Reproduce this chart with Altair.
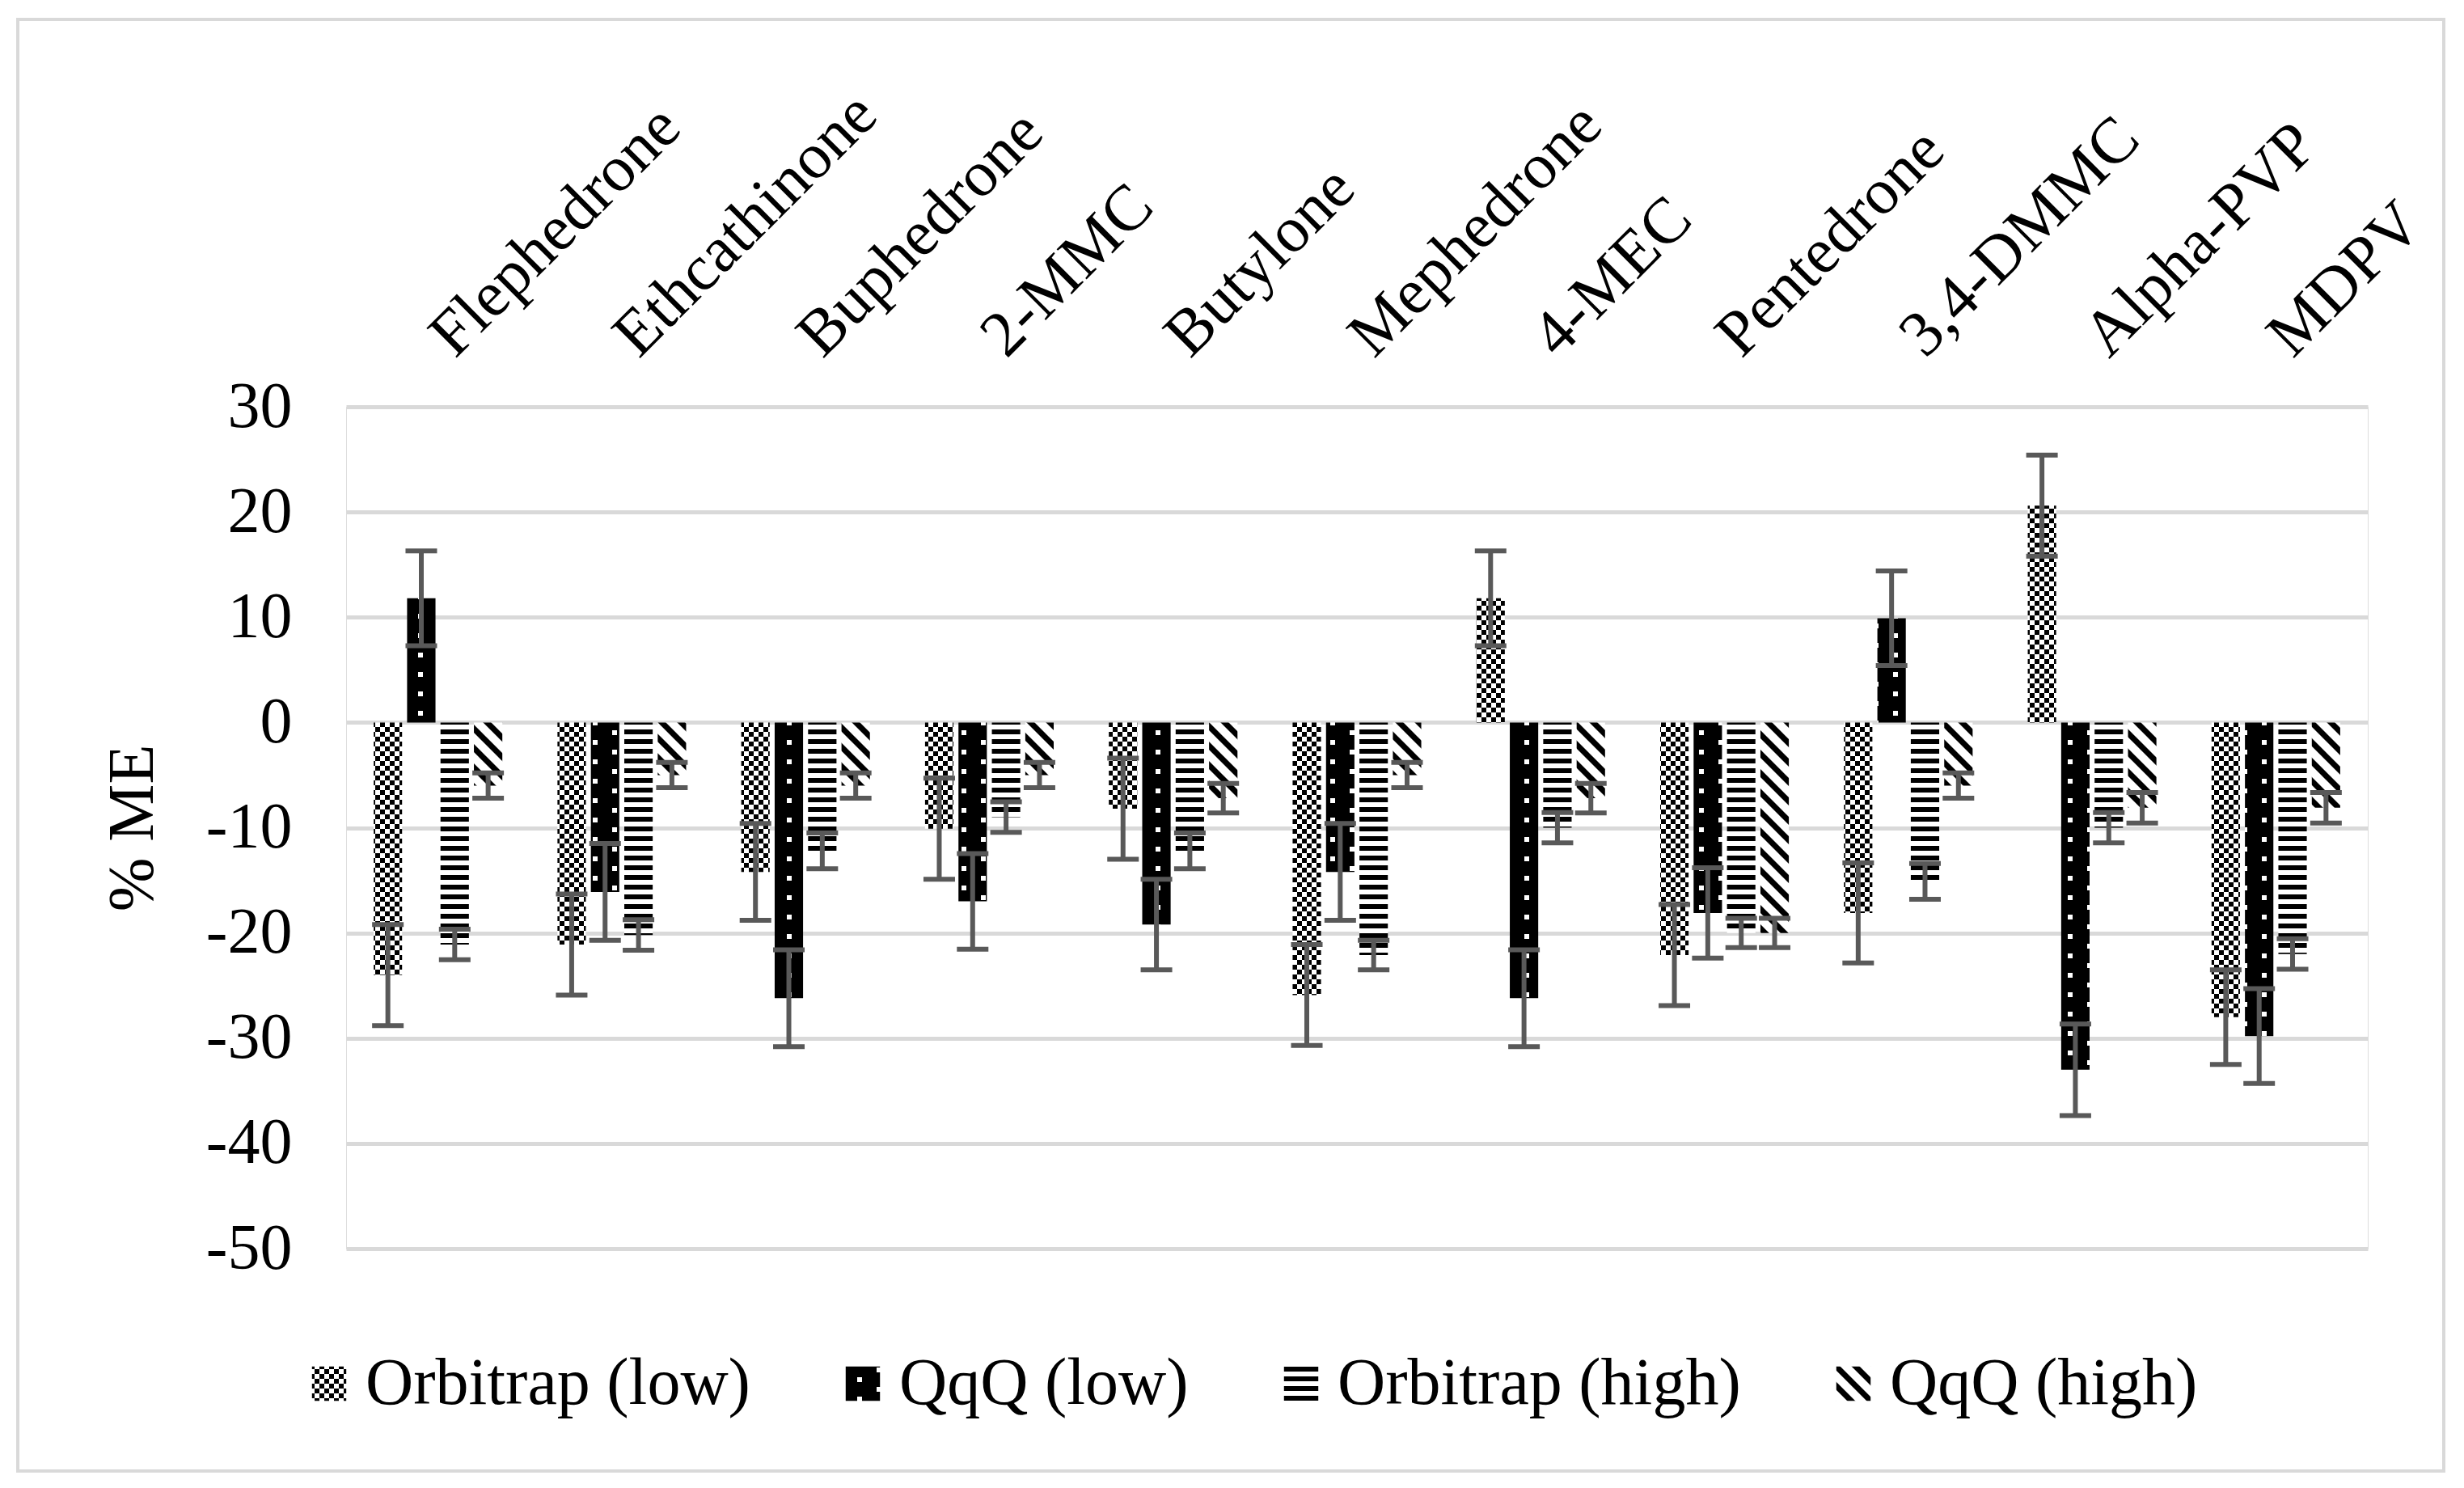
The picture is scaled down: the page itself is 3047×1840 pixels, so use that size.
import altair as alt
import pandas as pd

categories = ["Flephedrone", "Ethcathinone", "Buphedrone", "2-MMC", "Butylone",
              "Mephedrone", "4-MEC", "Pentedrone", "3,4-DMMC", "Alpha-PVP", "MDPV"]
series = ["Orbitrap (low)", "QqQ (low)", "Orbitrap (high)", "QqQ (high)"]

orbitrap_low = [-24.0, -21.1, -14.2, -10.1, -8.2, -25.9, 11.8, -22.1, -18.1, 20.6, -28.0]
orbitrap_low_err = [4.8, 4.8, 4.6, 4.8, 4.8, 4.8, 4.5, 4.8, 4.75, 4.8, 4.5]
qqq_low = [11.8, -16.1, -26.2, -17.0, -19.2, -14.2, -26.2, -18.1, 9.9, -33.0, -29.8]
qqq_low_err = [4.5, 4.6, 4.6, 4.55, 4.3, 4.6, 4.6, 4.3, 4.5, 4.35, 4.5]
orbitrap_high = [-21.1, -20.2, -12.2, -9.0, -12.2, -22.1, -10.0, -20.0, -15.1, -10.0, -22.0]
orbitrap_high_err = [1.45, 1.45, 1.7, 1.45, 1.7, 1.4, 1.45, 1.4, 1.7, 1.45, 1.45]
qqq_high = [-6.0, -5.0, -6.0, -5.0, -7.2, -5.0, -7.2, -20.0, -6.0, -8.1, -8.1]
qqq_high_err = [1.2, 1.2, 1.2, 1.2, 1.4, 1.2, 1.4, 1.4, 1.2, 1.45, 1.45]

y_ticks = [-50, -40, -30, -20, -10, 0, 10, 20, 30]

values_by_series = [orbitrap_low, qqq_low, orbitrap_high, qqq_high]
errors_by_series = [orbitrap_low_err, qqq_low_err, orbitrap_high_err, qqq_high_err]

rows = []
for i, c in enumerate(categories):
    for s, vals, errs in zip(series, values_by_series, errors_by_series):
        rows.append({"compound": c, "series": s, "value": vals[i], "err": errs[i]})
df = pd.DataFrame(rows)

FONT = "Liberation Serif"
ERR_COLOR = "#595959"

pattern_fills = ["url(#pat-orb-low)", "url(#pat-qqq-low)", "url(#pat-orb-high)", "url(#pat-qqq-high)"]
gray_fills = ["#8c8c8c", "#151515", "#595959", "#9a9a9a"]

PATTERN_DEFS = """
<pattern id="pat-orb-low" patternUnits="userSpaceOnUse" width="12" height="12">
  <rect width="12" height="12" fill="#ffffff"/>
  <rect x="0" y="0" width="6" height="6" fill="#000000"/>
  <rect x="6" y="6" width="6" height="6" fill="#000000"/>
</pattern>
<pattern id="pat-qqq-low" patternUnits="userSpaceOnUse" width="48" height="24">
  <rect width="48" height="24" fill="#000000"/>
  <rect x="17" y="4" width="6" height="6" fill="#ffffff"/>
  <rect x="41" y="16" width="6" height="6" fill="#ffffff"/>
</pattern>
<pattern id="pat-orb-high" patternUnits="userSpaceOnUse" width="12" height="12">
  <rect width="12" height="12" fill="#ffffff"/>
  <rect x="0" y="3" width="12" height="6" fill="#000000"/>
</pattern>
<pattern id="pat-qqq-high" patternUnits="userSpaceOnUse" width="24" height="24">
  <rect width="24" height="24" fill="#ffffff"/>
  <path d="M0,0 L5,0 L24,19 L24,24 L19,24 L0,5 Z M19,0 L24,0 L24,5 Z M0,19 L5,24 L0,24 Z" fill="#000000"/>
</pattern>
"""

TEMPLATE_SRC = """<!DOCTYPE html>
<html>
<head>
<meta charset="utf-8">
<style>
  #{{ output_div }}.vega-embed { width: 100%; display: flex; }
</style>
<script type="text/javascript" src="{{ base_url }}/vega@{{ vega_version }}"></script>
<script type="text/javascript" src="{{ base_url }}/vega-lite@{{ vegalite_version }}"></script>
<script type="text/javascript" src="{{ base_url }}/vega-embed@{{ vegaembed_version }}"></script>
</head>
<body>
<svg width="0" height="0" style="position:absolute;left:0;top:0" aria-hidden="true"><defs>
""" + PATTERN_DEFS + """
</defs></svg>
<div id="{{ output_div }}"></div>
<script type="text/javascript">
  vegaEmbed("#{{ output_div }}", {{ spec }}, {{ embed_options }}).catch(console.error);
</script>
</body>
</html>
"""


def build(fills):
    x_enc = alt.X(
        "compound:N",
        sort=categories,
        scale=alt.Scale(paddingInner=0.3, paddingOuter=0.15),
        axis=alt.Axis(
            orient="top", title=None, labelAngle=315, labelAlign="left",
            labelBaseline="alphabetic", labelPadding=59, labelOffset=21,
            labelFontSize=80, labelFont=FONT, labelColor="#000000",
            labelLimit=0, labelOverlap=False, labelFlush=False,
            domain=False, ticks=False, tickSize=0, grid=False,
        ),
    )
    xoff = alt.XOffset("series:N", sort=series,
                       scale=alt.Scale(domain=series, paddingInner=0.15, paddingOuter=0))
    y_scale = alt.Scale(domain=[-50, 30], nice=False, zero=False)
    y_axis = alt.Axis(
        values=y_ticks, title="% ME", grid=True, gridColor="#d9d9d9", gridWidth=5,
        domain=False, ticks=False, tickSize=0, labelPadding=67,
        labelFontSize=80, labelFont=FONT, labelColor="#000000",
        labelExpr="'' + datum.value",
        titleFontSize=80, titleFont=FONT, titleFontWeight="normal",
        titleColor="#000000", titlePadding=49,
    )

    frame = alt.Chart(alt.Data(values=[{"k": 1}])).mark_rect(
        fill="transparent", stroke="#d9d9d9", strokeWidth=4
    ).encode(
        x=alt.value(-406), x2=alt.value(2594), y=alt.value(-479), y2=alt.value(1316)
    )

    base = alt.Chart(df)
    bars = base.mark_bar(strokeWidth=0).encode(
        x=x_enc,
        xOffset=xoff,
        y=alt.Y("value:Q", scale=y_scale, axis=y_axis),
        fill=alt.Fill(
            "series:N", sort=series,
            scale=alt.Scale(domain=series, range=fills),
            legend=alt.Legend(
                orient="none", legendX=-62, legendY=1167, direction="horizontal",
                columns=4, title=None, symbolType="square", symbolSize=1800,
                symbolStrokeWidth=0, labelFontSize=82, labelFont=FONT,
                labelColor="#000000", labelOffset=4, columnPadding=98,
                labelLimit=0, padding=0,
            ),
        ),
    )

    err = base.transform_calculate(
        lo="datum.value - datum.err", hi="datum.value + datum.err"
    )
    rules = err.mark_rule(color=ERR_COLOR, strokeWidth=6).encode(
        x=alt.X("compound:N", sort=categories),
        xOffset=alt.XOffset("series:N", sort=series),
        y=alt.Y("lo:Q"),
        y2="hi:Q",
    )
    caps_lo = err.mark_tick(color=ERR_COLOR, thickness=6, size=39, opacity=1).encode(
        x=alt.X("compound:N", sort=categories),
        xOffset=alt.XOffset("series:N", sort=series),
        y=alt.Y("lo:Q"),
    )
    caps_hi = err.mark_tick(color=ERR_COLOR, thickness=6, size=39, opacity=1).encode(
        x=alt.X("compound:N", sort=categories),
        xOffset=alt.XOffset("series:N", sort=series),
        y=alt.Y("hi:Q"),
    )

    chart = alt.layer(frame, bars, rules, caps_lo, caps_hi).properties(
        width=2500,
        height=1041,
        autosize=alt.AutoSizeParams(type="none"),
        padding={"left": 420, "top": 495, "right": 111, "bottom": 280},
        background="#ffffff",
    ).configure_view(strokeWidth=0).configure(font=FONT)
    return chart


try:
    import jinja2
    template = jinja2.Template(TEMPLATE_SRC)
    chart = build(pattern_fills)
    chart.save("out.html", embed_options={"renderer": "svg", "actions": False}, template=template)
except Exception:
    chart = build(gray_fills)
    chart.save("out.html", embed_options={"renderer": "svg", "actions": False})
